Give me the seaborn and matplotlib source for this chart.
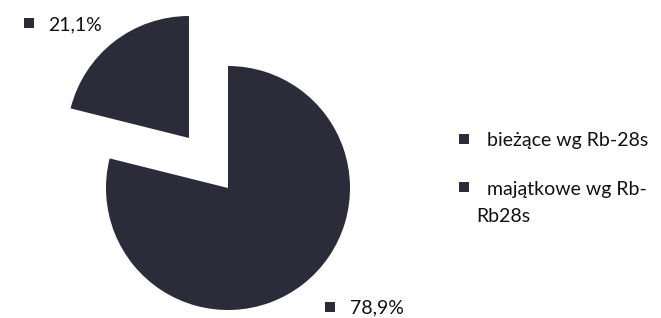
import matplotlib
matplotlib.use("Agg")
import matplotlib.pyplot as plt
import seaborn as sns

# Data
categories = ["bieżące wg Rb-28s", "majątkowe wg Rb-\nRb28s"]
shares = [78.9, 21.1]
value_labels = ["78,9%", "21,1%"]

sns.set_theme(style="white")
plt.rcParams["font.family"] = ["Lato", "DejaVu Sans"]

W, H = 661, 318
fig = plt.figure(figsize=(W / 100, H / 100), dpi=100)
ax = fig.add_axes([0, 0, 1, 1])

slice_color = "#2c2b3a"
ax.pie(shares, colors=[slice_color] * len(shares), startangle=90, counterclock=False,
       explode=[0, 0.52], radius=1, center=(0, 0), wedgeprops=dict(linewidth=0))

# pie radius ~122 px, centre at (228, 188) in picture pixels
r_px, cx, cy = 122, 228, 188
ax.set_xlim(-cx / r_px, (W - cx) / r_px)
ax.set_ylim(-(H - cy) / r_px, cy / r_px)
ax.set_aspect("equal")
ax.axis("off")


def px(x, y):
    return x / W, 1 - y / H


fs = 14
txt_color = "#111111"
mark = dict(marker="s", s=60, color=slice_color, linewidths=0, transform=fig.transFigure)

# data labels with legend keys
label_pos = [((330, 307), (350, 313)), ((29, 23), (48, 30))]
for lab, (m, t) in zip(value_labels, label_pos):
    ax.scatter(*px(*m), clip_on=False, **mark)
    fig.text(*px(*t), lab, fontsize=fs, color=txt_color, va="baseline", ha="left")

# legend on the right
leg_rows = [(139, 146), (187, 195)]
for cat, (my, by) in zip(categories, leg_rows):
    ax.scatter(*px(464, my), clip_on=False, **mark)
    lines = cat.split("\n")
    fig.text(*px(487, by), lines[0], fontsize=fs, color=txt_color, va="baseline", ha="left")
    for i, extra in enumerate(lines[1:], start=1):
        fig.text(*px(476, by + 27 * i), extra, fontsize=fs, color=txt_color,
                 va="baseline", ha="left")

fig.savefig("out.png", dpi=100, facecolor="white")
